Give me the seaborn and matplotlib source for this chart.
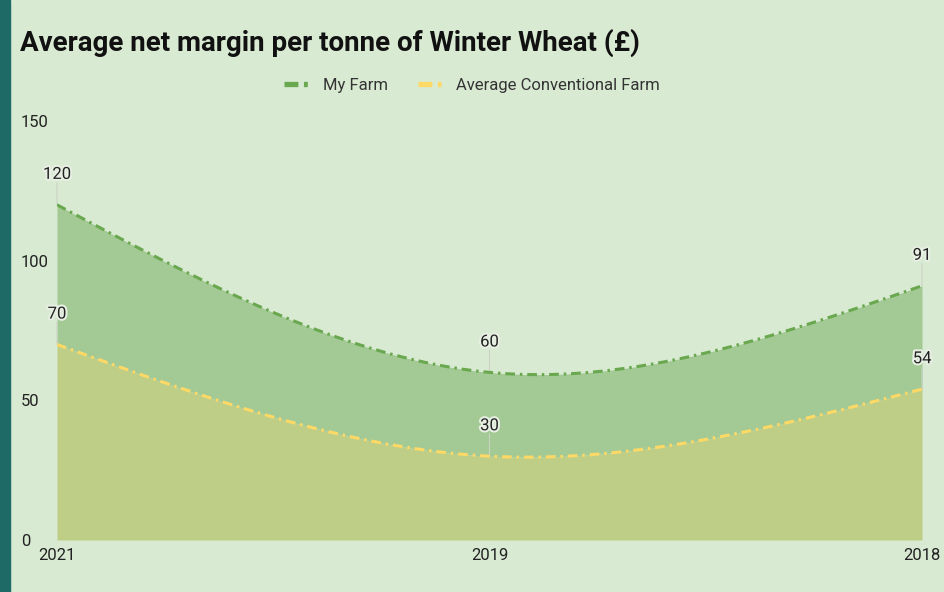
import numpy as np
import pandas as pd
import matplotlib
matplotlib.use("Agg")
import matplotlib.pyplot as plt
import matplotlib.patheffects as pe
from matplotlib.lines import Line2D
from matplotlib.patches import Rectangle
import seaborn as sns

# 資料
years = ["2021", "2019", "2018"]
my_farm = [120, 60, 91]
avg_conventional = [70, 30, 54]
y_ticks = [0, 50, 100, 150]

BG = "#d9ead3"
GREEN = "#6aa84f"
YELLOW = "#ffd966"
GREEN_FILL = "#a3c995"
YELLOW_FILL = "#bfce86"

sns.set_theme(style="white")
plt.rcParams['font.family'] = ['Roboto', 'DejaVu Sans']
plt.rcParams['lines.scale_dashes'] = False


# 自然三次樣條 (等距節點)
def natural_spline(y, n=300):
    y = np.asarray(y, dtype=float)
    k = len(y)
    A = np.zeros((k, k))
    r = np.zeros(k)
    A[0, 0] = A[-1, -1] = 1
    for i in range(1, k - 1):
        A[i, i - 1], A[i, i], A[i, i + 1] = 1, 4, 1
        r[i] = 6 * (y[i - 1] - 2 * y[i] + y[i + 1])
    M = np.linalg.solve(A, r)
    xs = np.linspace(0, k - 1, n)
    out = []
    for x in xs:
        i = min(int(np.floor(x)), k - 2)
        t = x - i
        v = (y[i] * (1 - t) + y[i + 1] * t
             + M[i] / 6 * ((1 - t) ** 3 - (1 - t))
             + M[i + 1] / 6 * (t ** 3 - t))
        out.append(v)
    return xs, np.array(out)


xs, g = natural_spline(my_farm)
_, yl = natural_spline(avg_conventional)
df = pd.DataFrame({"x": np.concatenate([xs, xs]),
                   "v": np.concatenate([g, yl]),
                   "series": ["My Farm"] * len(xs) + ["Average Conventional Farm"] * len(xs)})

fig = plt.figure(figsize=(9.44, 5.92), dpi=100, facecolor=BG)
ax = fig.add_axes([57 / 944, 52 / 592, (922 - 57) / 944, (540 - 121) / 592])
ax.set_facecolor(BG)
fig.patches.append(Rectangle((0, 0), 10 / 944, 1, transform=fig.transFigure,
                             color="#1d6a66", zorder=0))

ax.fill_between(xs, 0, yl, color=YELLOW_FILL, lw=0, zorder=1)
ax.fill_between(xs, yl, g, color=GREEN_FILL, lw=0, zorder=1)

sns.lineplot(data=df, x="x", y="v", hue="series", sort=False,
             palette={"My Farm": GREEN, "Average Conventional Farm": YELLOW},
             linewidth=2.2, legend=False, ax=ax, zorder=3)
dash = (0, (7, 3.5, 1.8, 3.5))
for ln in ax.lines:
    ln.set_linestyle(dash)

# 數據標籤 + 引導線
for series in (my_farm, avg_conventional):
    for i, v in enumerate(series):
        ax.annotate("", xy=(i, v), xytext=(0, 16), textcoords="offset points",
                    arrowprops=dict(arrowstyle="-", color="#c8d3c4", lw=0.8,
                                    shrinkA=0, shrinkB=0), zorder=2)
        ax.annotate(str(v), xy=(i, v), xytext=(0, 16.5), textcoords="offset points",
                    ha="center", va="bottom", fontsize=12, color="#222222",
                    path_effects=[pe.withStroke(linewidth=3, foreground="#e6efe2")],
                    zorder=4)

ax.set_xlim(0, 2)
ax.set_ylim(0, 150)
ax.set_xticks(range(len(years)))
ax.set_xticklabels(years, fontsize=12, color="#222222")
ax.set_yticks(y_ticks)
ax.set_yticklabels([str(t) for t in y_ticks], fontsize=12, color="#222222", ha="left")
ax.tick_params(axis="y", length=0, pad=26)
ax.tick_params(axis="x", length=0, pad=6)
ax.set_xlabel("")
ax.set_ylabel("")
ax.grid(False)
for s in ax.spines.values():
    s.set_visible(False)

fig.text(20 / 944, 1 - 43 / 592, "Average net margin per tonne of Winter Wheat (£)",
         fontsize=20, fontweight="bold", color="#111111", va="center", ha="left")

legend_dash = (0, (10, 4, 2.8, 20))
handles = [Line2D([], [], color=GREEN, lw=3.8, linestyle=legend_dash, solid_capstyle="butt"),
           Line2D([], [], color=YELLOW, lw=3.8, linestyle=legend_dash, solid_capstyle="butt")]
fig.legend(handles, ["My Farm", "Average Conventional Farm"], loc="center",
           bbox_to_anchor=(472 / 944, 1 - 85 / 592), ncol=2, frameon=False,
           fontsize=12, handlelength=1.4, columnspacing=1.8, handletextpad=0.9,
           labelcolor="#333333")

fig.savefig("out.png", dpi=100, facecolor=BG)
